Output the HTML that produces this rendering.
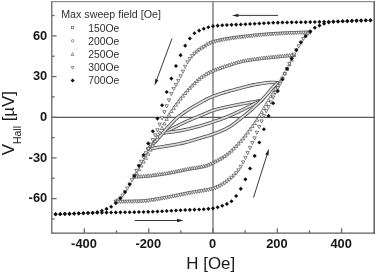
<!DOCTYPE html><html><head><meta charset="utf-8"><title>Hall loops</title><style>html,body{margin:0;padding:0;background:#fff;}body{width:375px;height:273px;overflow:hidden;font-family:"Liberation Sans",sans-serif;}svg{display:block;will-change:transform;filter:grayscale(1) blur(0.3px);}</style></head><body><svg width="375" height="273" viewBox="0 0 375 273" font-family="'Liberation Sans', sans-serif"><rect width="375" height="273" fill="#fff"/><line x1="213.00" y1="1.5" x2="213.00" y2="233.1" stroke="#8a8a8a" stroke-width="1.6"/><line x1="51.8" y1="117.30" x2="374.2" y2="117.30" stroke="#5a5a5a" stroke-width="1.15"/><path d="M164.39 132.84L165.21 132.38L166.02 131.92L166.84 131.46L167.66 131.00L168.47 130.55L169.29 130.10L170.11 129.65L170.93 129.21L171.74 128.77L172.56 128.33L173.38 127.90L174.19 127.47L175.01 127.05L175.83 126.62L176.64 126.21L177.46 125.79L178.28 125.38L179.09 124.98L179.91 124.58L180.73 124.18L181.55 123.79L182.36 123.40L183.18 123.01L184.00 122.63L184.81 122.26L185.63 121.89L186.45 121.52L187.26 121.16L188.08 120.80L188.90 120.45L189.72 120.10L190.53 119.75L191.35 119.40L192.17 119.05L192.98 118.71L193.80 118.37L194.62 118.03L195.43 117.69L196.25 117.35L197.07 117.02L197.89 116.68L198.70 116.34L199.52 116.00L200.34 115.67L201.15 115.33L201.97 114.99L202.79 114.64L203.60 114.29L204.42 113.93L205.24 113.57L206.06 113.21L206.87 112.85L207.69 112.49L208.51 112.14L209.32 111.80L210.14 111.48L210.96 111.17L211.77 110.87L212.59 110.60L213.41 110.34L214.23 110.10L215.04 109.86L215.86 109.62L216.68 109.40L217.49 109.17L218.31 108.95L219.13 108.74L219.94 108.53L220.76 108.32L221.58 108.12L222.40 107.92L223.21 107.73L224.03 107.54L224.85 107.35L225.66 107.17L226.48 106.99L227.30 106.81L228.11 106.64L228.93 106.46L229.75 106.29L230.57 106.12L231.38 105.96L232.20 105.79L233.02 105.63L233.83 105.46L234.65 105.30L235.47 105.14L236.28 104.97L237.10 104.81L237.92 104.65L238.74 104.49L239.55 104.33L240.37 104.17L241.19 104.01L242.00 103.86L242.82 103.70L243.64 103.55L244.45 103.40L245.27 103.25L246.09 103.10L246.91 102.95L247.72 102.81L248.54 102.66L249.36 102.52L250.17 102.38L250.99 102.24L251.81 102.10L252.62 101.96L253.44 101.83L254.26 101.69L255.07 101.56L255.89 101.43L256.71 101.30L257.53 101.18L258.34 101.05L259.16 100.93L259.98 100.81L260.79 100.69L261.61 100.57" fill="none" stroke="#4c4c4c" stroke-width="3.4" stroke-linecap="round" stroke-linejoin="round"/><path d="M164.39 132.84L165.21 132.38L166.02 131.92L166.84 131.46L167.66 131.00L168.47 130.55L169.29 130.10L170.11 129.65L170.93 129.21L171.74 128.77L172.56 128.33L173.38 127.90L174.19 127.47L175.01 127.05L175.83 126.62L176.64 126.21L177.46 125.79L178.28 125.38L179.09 124.98L179.91 124.58L180.73 124.18L181.55 123.79L182.36 123.40L183.18 123.01L184.00 122.63L184.81 122.26L185.63 121.89L186.45 121.52L187.26 121.16L188.08 120.80L188.90 120.45L189.72 120.10L190.53 119.75L191.35 119.40L192.17 119.05L192.98 118.71L193.80 118.37L194.62 118.03L195.43 117.69L196.25 117.35L197.07 117.02L197.89 116.68L198.70 116.34L199.52 116.00L200.34 115.67L201.15 115.33L201.97 114.99L202.79 114.64L203.60 114.29L204.42 113.93L205.24 113.57L206.06 113.21L206.87 112.85L207.69 112.49L208.51 112.14L209.32 111.80L210.14 111.48L210.96 111.17L211.77 110.87L212.59 110.60L213.41 110.34L214.23 110.10L215.04 109.86L215.86 109.62L216.68 109.40L217.49 109.17L218.31 108.95L219.13 108.74L219.94 108.53L220.76 108.32L221.58 108.12L222.40 107.92L223.21 107.73L224.03 107.54L224.85 107.35L225.66 107.17L226.48 106.99L227.30 106.81L228.11 106.64L228.93 106.46L229.75 106.29L230.57 106.12L231.38 105.96L232.20 105.79L233.02 105.63L233.83 105.46L234.65 105.30L235.47 105.14L236.28 104.97L237.10 104.81L237.92 104.65L238.74 104.49L239.55 104.33L240.37 104.17L241.19 104.01L242.00 103.86L242.82 103.70L243.64 103.55L244.45 103.40L245.27 103.25L246.09 103.10L246.91 102.95L247.72 102.81L248.54 102.66L249.36 102.52L250.17 102.38L250.99 102.24L251.81 102.10L252.62 101.96L253.44 101.83L254.26 101.69L255.07 101.56L255.89 101.43L256.71 101.30L257.53 101.18L258.34 101.05L259.16 100.93L259.98 100.81L260.79 100.69L261.61 100.57" fill="none" stroke="#dcdcdc" stroke-width="1.8" stroke-linecap="round" stroke-linejoin="round"/><path d="M164.39 132.84L165.21 132.77L166.02 132.68L166.84 132.60L167.66 132.50L168.47 132.41L169.29 132.31L170.11 132.20L170.93 132.10L171.74 131.99L172.56 131.87L173.38 131.75L174.19 131.63L175.01 131.51L175.83 131.38L176.64 131.25L177.46 131.11L178.28 130.98L179.09 130.84L179.91 130.70L180.73 130.55L181.55 130.41L182.36 130.26L183.18 130.11L184.00 129.95L184.81 129.79L185.63 129.61L186.45 129.44L187.26 129.25L188.08 129.07L188.90 128.87L189.72 128.68L190.53 128.47L191.35 128.27L192.17 128.06L192.98 127.85L193.80 127.63L194.62 127.41L195.43 127.19L196.25 126.97L197.07 126.75L197.89 126.52L198.70 126.29L199.52 126.06L200.34 125.84L201.15 125.61L201.97 125.37L202.79 125.13L203.60 124.89L204.42 124.64L205.24 124.39L206.06 124.13L206.87 123.87L207.69 123.60L208.51 123.34L209.32 123.07L210.14 122.80L210.96 122.53L211.77 122.26L212.59 121.99L213.41 121.73L214.23 121.46L215.04 121.20L215.86 120.93L216.68 120.67L217.49 120.40L218.31 120.13L219.13 119.85L219.94 119.57L220.76 119.29L221.58 119.00L222.40 118.70L223.21 118.39L224.03 118.07L224.85 117.75L225.66 117.42L226.48 117.08L227.30 116.74L228.11 116.39L228.93 116.03L229.75 115.68L230.57 115.32L231.38 114.96L232.20 114.59L233.02 114.23L233.83 113.86L234.65 113.49L235.47 113.12L236.28 112.74L237.10 112.36L237.92 111.98L238.74 111.59L239.55 111.20L240.37 110.81L241.19 110.42L242.00 110.03L242.82 109.63L243.64 109.23L244.45 108.84L245.27 108.44L246.09 108.04L246.91 107.64L247.72 107.23L248.54 106.82L249.36 106.41L250.17 105.99L250.99 105.58L251.81 105.16L252.62 104.75L253.44 104.35L254.26 103.95L255.07 103.56L255.89 103.17L256.71 102.79L257.53 102.41L258.34 102.03L259.16 101.66L259.98 101.30L260.79 100.93L261.61 100.57" fill="none" stroke="#4c4c4c" stroke-width="3.4" stroke-linecap="round" stroke-linejoin="round"/><path d="M164.39 132.84L165.21 132.77L166.02 132.68L166.84 132.60L167.66 132.50L168.47 132.41L169.29 132.31L170.11 132.20L170.93 132.10L171.74 131.99L172.56 131.87L173.38 131.75L174.19 131.63L175.01 131.51L175.83 131.38L176.64 131.25L177.46 131.11L178.28 130.98L179.09 130.84L179.91 130.70L180.73 130.55L181.55 130.41L182.36 130.26L183.18 130.11L184.00 129.95L184.81 129.79L185.63 129.61L186.45 129.44L187.26 129.25L188.08 129.07L188.90 128.87L189.72 128.68L190.53 128.47L191.35 128.27L192.17 128.06L192.98 127.85L193.80 127.63L194.62 127.41L195.43 127.19L196.25 126.97L197.07 126.75L197.89 126.52L198.70 126.29L199.52 126.06L200.34 125.84L201.15 125.61L201.97 125.37L202.79 125.13L203.60 124.89L204.42 124.64L205.24 124.39L206.06 124.13L206.87 123.87L207.69 123.60L208.51 123.34L209.32 123.07L210.14 122.80L210.96 122.53L211.77 122.26L212.59 121.99L213.41 121.73L214.23 121.46L215.04 121.20L215.86 120.93L216.68 120.67L217.49 120.40L218.31 120.13L219.13 119.85L219.94 119.57L220.76 119.29L221.58 119.00L222.40 118.70L223.21 118.39L224.03 118.07L224.85 117.75L225.66 117.42L226.48 117.08L227.30 116.74L228.11 116.39L228.93 116.03L229.75 115.68L230.57 115.32L231.38 114.96L232.20 114.59L233.02 114.23L233.83 113.86L234.65 113.49L235.47 113.12L236.28 112.74L237.10 112.36L237.92 111.98L238.74 111.59L239.55 111.20L240.37 110.81L241.19 110.42L242.00 110.03L242.82 109.63L243.64 109.23L244.45 108.84L245.27 108.44L246.09 108.04L246.91 107.64L247.72 107.23L248.54 106.82L249.36 106.41L250.17 105.99L250.99 105.58L251.81 105.16L252.62 104.75L253.44 104.35L254.26 103.95L255.07 103.56L255.89 103.17L256.71 102.79L257.53 102.41L258.34 102.03L259.16 101.66L259.98 101.30L260.79 100.93L261.61 100.57" fill="none" stroke="#dcdcdc" stroke-width="1.8" stroke-linecap="round" stroke-linejoin="round"/><path d="M148.19 148.98L149.27 147.87L150.36 146.75L151.45 145.62L152.54 144.48L153.63 143.32L154.72 142.16L155.81 140.98L156.90 139.79L157.99 138.59L159.08 137.38L160.17 136.16L161.26 134.94L162.35 133.71L163.44 132.46L164.53 131.19L165.61 129.93L166.70 128.67L167.79 127.43L168.88 126.23L169.97 125.06L171.06 123.89L172.15 122.72L173.24 121.57L174.33 120.45L175.42 119.38L176.51 118.36L177.60 117.41L178.69 116.53L179.78 115.68L180.87 114.85L181.95 114.05L183.04 113.27L184.13 112.51L185.22 111.77L186.31 111.05L187.40 110.34L188.49 109.65L189.58 108.97L190.67 108.31L191.76 107.66L192.85 107.01L193.94 106.37L195.03 105.74L196.12 105.11L197.20 104.48L198.29 103.85L199.38 103.23L200.47 102.61L201.56 101.99L202.65 101.38L203.74 100.78L204.83 100.20L205.92 99.63L207.01 99.07L208.10 98.53L209.19 98.01L210.28 97.51L211.37 97.03L212.46 96.58L213.54 96.16L214.63 95.75L215.72 95.35L216.81 94.96L217.90 94.58L218.99 94.21L220.08 93.85L221.17 93.50L222.26 93.16L223.35 92.82L224.44 92.50L225.53 92.18L226.62 91.86L227.71 91.55L228.80 91.25L229.88 90.95L230.97 90.65L232.06 90.35L233.15 90.06L234.24 89.77L235.33 89.48L236.42 89.19L237.51 88.90L238.60 88.61L239.69 88.31L240.78 88.02L241.87 87.72L242.96 87.43L244.05 87.14L245.13 86.85L246.22 86.56L247.31 86.28L248.40 86.01L249.49 85.74L250.58 85.49L251.67 85.24L252.76 85.01L253.85 84.79L254.94 84.59L256.03 84.40L257.12 84.22L258.21 84.04L259.30 83.86L260.39 83.68L261.47 83.51L262.56 83.33L263.65 83.17L264.74 83.01L265.83 82.87L266.92 82.74L268.01 82.62L269.10 82.53L270.19 82.46L271.28 82.42L272.37 82.40L273.46 82.43L274.55 82.50L275.64 82.63L276.73 82.78L277.81 82.94" fill="none" stroke="#4c4c4c" stroke-width="3.4" stroke-linecap="round" stroke-linejoin="round"/><path d="M148.19 148.98L149.27 147.87L150.36 146.75L151.45 145.62L152.54 144.48L153.63 143.32L154.72 142.16L155.81 140.98L156.90 139.79L157.99 138.59L159.08 137.38L160.17 136.16L161.26 134.94L162.35 133.71L163.44 132.46L164.53 131.19L165.61 129.93L166.70 128.67L167.79 127.43L168.88 126.23L169.97 125.06L171.06 123.89L172.15 122.72L173.24 121.57L174.33 120.45L175.42 119.38L176.51 118.36L177.60 117.41L178.69 116.53L179.78 115.68L180.87 114.85L181.95 114.05L183.04 113.27L184.13 112.51L185.22 111.77L186.31 111.05L187.40 110.34L188.49 109.65L189.58 108.97L190.67 108.31L191.76 107.66L192.85 107.01L193.94 106.37L195.03 105.74L196.12 105.11L197.20 104.48L198.29 103.85L199.38 103.23L200.47 102.61L201.56 101.99L202.65 101.38L203.74 100.78L204.83 100.20L205.92 99.63L207.01 99.07L208.10 98.53L209.19 98.01L210.28 97.51L211.37 97.03L212.46 96.58L213.54 96.16L214.63 95.75L215.72 95.35L216.81 94.96L217.90 94.58L218.99 94.21L220.08 93.85L221.17 93.50L222.26 93.16L223.35 92.82L224.44 92.50L225.53 92.18L226.62 91.86L227.71 91.55L228.80 91.25L229.88 90.95L230.97 90.65L232.06 90.35L233.15 90.06L234.24 89.77L235.33 89.48L236.42 89.19L237.51 88.90L238.60 88.61L239.69 88.31L240.78 88.02L241.87 87.72L242.96 87.43L244.05 87.14L245.13 86.85L246.22 86.56L247.31 86.28L248.40 86.01L249.49 85.74L250.58 85.49L251.67 85.24L252.76 85.01L253.85 84.79L254.94 84.59L256.03 84.40L257.12 84.22L258.21 84.04L259.30 83.86L260.39 83.68L261.47 83.51L262.56 83.33L263.65 83.17L264.74 83.01L265.83 82.87L266.92 82.74L268.01 82.62L269.10 82.53L270.19 82.46L271.28 82.42L272.37 82.40L273.46 82.43L274.55 82.50L275.64 82.63L276.73 82.78L277.81 82.94" fill="none" stroke="#dcdcdc" stroke-width="1.8" stroke-linecap="round" stroke-linejoin="round"/><path d="M148.19 148.98L149.27 148.82L150.36 148.66L151.45 148.49L152.54 148.33L153.63 148.16L154.72 147.99L155.81 147.82L156.90 147.65L157.99 147.47L159.08 147.30L160.17 147.12L161.26 146.94L162.35 146.76L163.44 146.58L164.53 146.39L165.61 146.21L166.70 146.03L167.79 145.85L168.88 145.67L169.97 145.48L171.06 145.30L172.15 145.11L173.24 144.92L174.33 144.73L175.42 144.53L176.51 144.33L177.60 144.13L178.69 143.91L179.78 143.69L180.87 143.47L181.95 143.23L183.04 142.99L184.13 142.73L185.22 142.46L186.31 142.18L187.40 141.89L188.49 141.59L189.58 141.28L190.67 140.97L191.76 140.64L192.85 140.32L193.94 139.99L195.03 139.66L196.12 139.33L197.20 138.99L198.29 138.66L199.38 138.33L200.47 138.01L201.56 137.69L202.65 137.37L203.74 137.06L204.83 136.75L205.92 136.44L207.01 136.12L208.10 135.80L209.19 135.47L210.28 135.13L211.37 134.77L212.46 134.39L213.54 134.00L214.63 133.60L215.72 133.19L216.81 132.77L217.90 132.33L218.99 131.89L220.08 131.43L221.17 130.95L222.26 130.47L223.35 129.96L224.44 129.44L225.53 128.91L226.62 128.35L227.71 127.78L228.80 127.18L229.88 126.57L230.97 125.93L232.06 125.21L233.15 124.43L234.24 123.60L235.33 122.74L236.42 121.87L237.51 121.01L238.60 120.16L239.69 119.32L240.78 118.47L241.87 117.61L242.96 116.74L244.05 115.87L245.13 114.98L246.22 114.08L247.31 113.17L248.40 112.25L249.49 111.32L250.58 110.38L251.67 109.42L252.76 108.46L253.85 107.48L254.94 106.48L256.03 105.47L257.12 104.45L258.21 103.41L259.30 102.36L260.39 101.29L261.47 100.21L262.56 99.11L263.65 97.99L264.74 96.85L265.83 95.68L266.92 94.46L268.01 93.17L269.10 91.82L270.19 90.47L271.28 89.14L272.37 87.86L273.46 86.69L274.55 85.63L275.64 84.66L276.73 83.77L277.81 82.94" fill="none" stroke="#4c4c4c" stroke-width="3.4" stroke-linecap="round" stroke-linejoin="round"/><path d="M148.19 148.98L149.27 148.82L150.36 148.66L151.45 148.49L152.54 148.33L153.63 148.16L154.72 147.99L155.81 147.82L156.90 147.65L157.99 147.47L159.08 147.30L160.17 147.12L161.26 146.94L162.35 146.76L163.44 146.58L164.53 146.39L165.61 146.21L166.70 146.03L167.79 145.85L168.88 145.67L169.97 145.48L171.06 145.30L172.15 145.11L173.24 144.92L174.33 144.73L175.42 144.53L176.51 144.33L177.60 144.13L178.69 143.91L179.78 143.69L180.87 143.47L181.95 143.23L183.04 142.99L184.13 142.73L185.22 142.46L186.31 142.18L187.40 141.89L188.49 141.59L189.58 141.28L190.67 140.97L191.76 140.64L192.85 140.32L193.94 139.99L195.03 139.66L196.12 139.33L197.20 138.99L198.29 138.66L199.38 138.33L200.47 138.01L201.56 137.69L202.65 137.37L203.74 137.06L204.83 136.75L205.92 136.44L207.01 136.12L208.10 135.80L209.19 135.47L210.28 135.13L211.37 134.77L212.46 134.39L213.54 134.00L214.63 133.60L215.72 133.19L216.81 132.77L217.90 132.33L218.99 131.89L220.08 131.43L221.17 130.95L222.26 130.47L223.35 129.96L224.44 129.44L225.53 128.91L226.62 128.35L227.71 127.78L228.80 127.18L229.88 126.57L230.97 125.93L232.06 125.21L233.15 124.43L234.24 123.60L235.33 122.74L236.42 121.87L237.51 121.01L238.60 120.16L239.69 119.32L240.78 118.47L241.87 117.61L242.96 116.74L244.05 115.87L245.13 114.98L246.22 114.08L247.31 113.17L248.40 112.25L249.49 111.32L250.58 110.38L251.67 109.42L252.76 108.46L253.85 107.48L254.94 106.48L256.03 105.47L257.12 104.45L258.21 103.41L259.30 102.36L260.39 101.29L261.47 100.21L262.56 99.11L263.65 97.99L264.74 96.85L265.83 95.68L266.92 94.46L268.01 93.17L269.10 91.82L270.19 90.47L271.28 89.14L272.37 87.86L273.46 86.69L274.55 85.63L275.64 84.66L276.73 83.77L277.81 82.94" fill="none" stroke="#dcdcdc" stroke-width="1.8" stroke-linecap="round" stroke-linejoin="round"/><g fill="#fff" stroke="#404040" stroke-width="0.65"><path d="M292.32 56.32L295.72 56.32L294.02 53.09Z"/><path d="M290.00 56.52L293.40 56.52L291.70 53.29Z"/><path d="M287.69 56.73L291.09 56.73L289.39 53.50Z"/><path d="M285.37 56.95L288.77 56.95L287.07 53.72Z"/><path d="M283.06 57.17L286.46 57.17L284.76 53.94Z"/><path d="M280.74 57.41L284.14 57.41L282.44 54.18Z"/><path d="M278.43 57.65L281.83 57.65L280.13 54.42Z"/><path d="M276.11 57.89L279.51 57.89L277.81 54.66Z"/><path d="M273.80 58.13L277.20 58.13L275.50 54.90Z"/><path d="M271.48 58.37L274.88 58.37L273.18 55.14Z"/><path d="M269.17 58.61L272.57 58.61L270.87 55.38Z"/><path d="M266.86 58.86L270.26 58.86L268.56 55.63Z"/><path d="M264.54 59.11L267.94 59.11L266.24 55.88Z"/><path d="M262.23 59.37L265.63 59.37L263.93 56.14Z"/><path d="M259.91 59.63L263.31 59.63L261.61 56.40Z"/><path d="M257.60 59.91L261.00 59.91L259.30 56.68Z"/><path d="M255.28 60.21L258.68 60.21L256.98 56.98Z"/><path d="M252.97 60.52L256.37 60.52L254.67 57.29Z"/><path d="M250.65 60.85L254.05 60.85L252.35 57.62Z"/><path d="M248.34 61.20L251.74 61.20L250.04 57.97Z"/><path d="M246.02 61.57L249.42 61.57L247.72 58.34Z"/><path d="M243.71 61.97L247.11 61.97L245.41 58.74Z"/><path d="M241.39 62.41L244.79 62.41L243.09 59.18Z"/><path d="M239.08 62.93L242.48 62.93L240.78 59.70Z"/><path d="M236.76 63.52L240.16 63.52L238.46 60.29Z"/><path d="M234.45 64.16L237.85 64.16L236.15 60.93Z"/><path d="M232.13 64.85L235.53 64.85L233.83 61.62Z"/><path d="M229.82 65.57L233.22 65.57L231.52 62.34Z"/><path d="M227.50 66.32L230.90 66.32L229.20 63.09Z"/><path d="M225.19 67.09L228.59 67.09L226.89 63.86Z"/><path d="M222.87 67.87L226.27 67.87L224.57 64.64Z"/><path d="M220.56 68.66L223.96 68.66L222.26 65.43Z"/><path d="M218.24 69.43L221.64 69.43L219.94 66.20Z"/><path d="M215.93 70.23L219.33 70.23L217.63 67.00Z"/><path d="M213.61 71.09L217.01 71.09L215.31 67.86Z"/><path d="M211.30 72.05L214.70 72.05L213.00 68.82Z"/><path d="M208.99 73.12L212.39 73.12L210.69 69.89Z"/><path d="M206.67 74.30L210.07 74.30L208.37 71.07Z"/><path d="M204.36 75.61L207.76 75.61L206.06 72.38Z"/><path d="M202.04 77.03L205.44 77.03L203.74 73.80Z"/><path d="M199.73 78.61L203.13 78.61L201.43 75.38Z"/><path d="M197.41 80.43L200.81 80.43L199.11 77.20Z"/><path d="M195.10 82.49L198.50 82.49L196.80 79.26Z"/><path d="M192.78 84.70L196.18 84.70L194.48 81.47Z"/><path d="M190.47 86.99L193.87 86.99L192.17 83.76Z"/><path d="M188.15 89.34L191.55 89.34L189.85 86.11Z"/><path d="M185.84 91.84L189.24 91.84L187.54 88.61Z"/><path d="M183.52 94.46L186.92 94.46L185.22 91.23Z"/><path d="M181.21 97.18L184.61 97.18L182.91 93.95Z"/><path d="M178.89 100.01L182.29 100.01L180.59 96.78Z"/><path d="M176.58 103.01L179.98 103.01L178.28 99.78Z"/><path d="M174.26 106.15L177.66 106.15L175.96 102.92Z"/><path d="M171.95 109.38L175.35 109.38L173.65 106.15Z"/><path d="M169.63 112.64L173.03 112.64L171.33 109.41Z"/><path d="M167.32 116.16L170.72 116.16L169.02 112.93Z"/><path d="M165.00 120.41L168.40 120.41L166.70 117.18Z"/><path d="M162.69 125.03L166.09 125.03L164.39 121.80Z"/><path d="M160.37 129.51L163.77 129.51L162.07 126.28Z"/><path d="M158.06 133.98L161.46 133.98L159.76 130.75Z"/><path d="M155.74 138.39L159.14 138.39L157.44 135.16Z"/><path d="M153.43 142.71L156.83 142.71L155.13 139.48Z"/><path d="M151.12 146.98L154.52 146.98L152.82 143.75Z"/><path d="M148.80 151.17L152.20 151.17L150.50 147.94Z"/><path d="M146.49 155.26L149.89 155.26L148.19 152.03Z"/><path d="M144.17 159.25L147.57 159.25L145.87 156.02Z"/><path d="M141.86 163.15L145.26 163.15L143.56 159.92Z"/><path d="M139.54 166.97L142.94 166.97L141.24 163.74Z"/><path d="M137.23 170.72L140.63 170.72L138.93 167.49Z"/><path d="M134.91 174.38L138.31 174.38L136.61 171.15Z"/><path d="M132.60 177.95L136.00 177.95L134.30 174.72Z"/><path d="M132.60 177.95L136.00 177.95L134.30 174.72Z"/><path d="M134.91 177.92L138.31 177.92L136.61 174.69Z"/><path d="M137.23 177.85L140.63 177.85L138.93 174.62Z"/><path d="M139.54 177.77L142.94 177.77L141.24 174.54Z"/><path d="M141.86 177.63L145.26 177.63L143.56 174.40Z"/><path d="M144.17 177.45L147.57 177.45L145.87 174.22Z"/><path d="M146.49 177.23L149.89 177.23L148.19 174.00Z"/><path d="M148.80 176.97L152.20 176.97L150.50 173.74Z"/><path d="M151.12 176.68L154.52 176.68L152.82 173.45Z"/><path d="M153.43 176.37L156.83 176.37L155.13 173.14Z"/><path d="M155.74 176.05L159.14 176.05L157.44 172.82Z"/><path d="M158.06 175.71L161.46 175.71L159.76 172.48Z"/><path d="M160.37 175.37L163.77 175.37L162.07 172.14Z"/><path d="M162.69 175.03L166.09 175.03L164.39 171.80Z"/><path d="M165.00 174.67L168.40 174.67L166.70 171.44Z"/><path d="M167.32 174.28L170.72 174.28L169.02 171.05Z"/><path d="M169.63 173.84L173.03 173.84L171.33 170.61Z"/><path d="M171.95 173.38L175.35 173.38L173.65 170.15Z"/><path d="M174.26 172.90L177.66 172.90L175.96 169.67Z"/><path d="M176.58 172.41L179.98 172.41L178.28 169.18Z"/><path d="M178.89 171.91L182.29 171.91L180.59 168.68Z"/><path d="M181.21 171.42L184.61 171.42L182.91 168.19Z"/><path d="M183.52 170.94L186.92 170.94L185.22 167.71Z"/><path d="M185.84 170.48L189.24 170.48L187.54 167.25Z"/><path d="M188.15 170.05L191.55 170.05L189.85 166.82Z"/><path d="M190.47 169.67L193.87 169.67L192.17 166.44Z"/><path d="M192.78 169.32L196.18 169.32L194.48 166.09Z"/><path d="M195.10 168.97L198.50 168.97L196.80 165.74Z"/><path d="M197.41 168.60L200.81 168.60L199.11 165.37Z"/><path d="M199.73 168.18L203.13 168.18L201.43 164.95Z"/><path d="M202.04 167.68L205.44 167.68L203.74 164.45Z"/><path d="M204.36 167.05L207.76 167.05L206.06 163.82Z"/><path d="M206.67 166.15L210.07 166.15L208.37 162.92Z"/><path d="M208.99 165.09L212.39 165.09L210.69 161.86Z"/><path d="M211.30 163.99L214.70 163.99L213.00 160.76Z"/><path d="M213.61 162.87L217.01 162.87L215.31 159.64Z"/><path d="M215.93 161.65L219.33 161.65L217.63 158.42Z"/><path d="M218.24 160.35L221.64 160.35L219.94 157.12Z"/><path d="M220.56 158.99L223.96 158.99L222.26 155.76Z"/><path d="M222.87 157.53L226.27 157.53L224.57 154.30Z"/><path d="M225.19 155.94L228.59 155.94L226.89 152.71Z"/><path d="M227.50 154.16L230.90 154.16L229.20 150.93Z"/><path d="M229.82 152.09L233.22 152.09L231.52 148.86Z"/><path d="M232.13 149.83L235.53 149.83L233.83 146.60Z"/><path d="M234.45 147.49L237.85 147.49L236.15 144.26Z"/><path d="M236.76 145.10L240.16 145.10L238.46 141.87Z"/><path d="M239.08 142.60L242.48 142.60L240.78 139.37Z"/><path d="M241.39 139.94L244.79 139.94L243.09 136.71Z"/><path d="M243.71 137.04L247.11 137.04L245.41 133.81Z"/><path d="M246.02 133.90L249.42 133.90L247.72 130.67Z"/><path d="M248.34 130.69L251.74 130.69L250.04 127.46Z"/><path d="M250.65 127.61L254.05 127.61L252.35 124.38Z"/><path d="M252.97 124.61L256.37 124.61L254.67 121.38Z"/><path d="M255.28 121.17L258.68 121.17L256.98 117.94Z"/><path d="M257.60 117.36L261.00 117.36L259.30 114.13Z"/><path d="M259.91 113.45L263.31 113.45L261.61 110.22Z"/><path d="M262.23 109.53L265.63 109.53L263.93 106.30Z"/><path d="M264.54 105.58L267.94 105.58L266.24 102.35Z"/><path d="M266.86 101.58L270.26 101.58L268.56 98.35Z"/><path d="M269.17 97.73L272.57 97.73L270.87 94.50Z"/><path d="M271.48 93.98L274.88 93.98L273.18 90.75Z"/><path d="M273.80 90.26L277.20 90.26L275.50 87.03Z"/><path d="M276.11 86.57L279.51 86.57L277.81 83.34Z"/><path d="M278.43 82.80L281.83 82.80L280.13 79.57Z"/><path d="M280.74 78.92L284.14 78.92L282.44 75.69Z"/><path d="M283.06 74.71L286.46 74.71L284.76 71.48Z"/><path d="M285.37 70.31L288.77 70.31L287.07 67.08Z"/><path d="M287.69 65.78L291.09 65.78L289.39 62.55Z"/><path d="M290.00 61.12L293.40 61.12L291.70 57.89Z"/><path d="M292.32 56.32L295.72 56.32L294.02 53.09Z"/><path d="M308.52 31.05L311.92 31.05L310.22 34.28Z"/><path d="M306.21 31.09L309.61 31.09L307.91 34.32Z"/><path d="M303.89 31.13L307.29 31.13L305.59 34.36Z"/><path d="M301.58 31.19L304.98 31.19L303.28 34.42Z"/><path d="M299.26 31.25L302.66 31.25L300.96 34.48Z"/><path d="M296.95 31.33L300.35 31.33L298.65 34.56Z"/><path d="M294.63 31.41L298.03 31.41L296.33 34.64Z"/><path d="M292.32 31.49L295.72 31.49L294.02 34.72Z"/><path d="M290.00 31.59L293.40 31.59L291.70 34.82Z"/><path d="M287.69 31.69L291.09 31.69L289.39 34.92Z"/><path d="M285.37 31.79L288.77 31.79L287.07 35.02Z"/><path d="M283.06 31.90L286.46 31.90L284.76 35.13Z"/><path d="M280.74 32.01L284.14 32.01L282.44 35.24Z"/><path d="M278.43 32.13L281.83 32.13L280.13 35.36Z"/><path d="M276.11 32.25L279.51 32.25L277.81 35.48Z"/><path d="M273.80 32.38L277.20 32.38L275.50 35.61Z"/><path d="M271.48 32.53L274.88 32.53L273.18 35.76Z"/><path d="M269.17 32.69L272.57 32.69L270.87 35.92Z"/><path d="M266.86 32.85L270.26 32.85L268.56 36.08Z"/><path d="M264.54 33.03L267.94 33.03L266.24 36.26Z"/><path d="M262.23 33.23L265.63 33.23L263.93 36.46Z"/><path d="M259.91 33.43L263.31 33.43L261.61 36.66Z"/><path d="M257.60 33.64L261.00 33.64L259.30 36.87Z"/><path d="M255.28 33.86L258.68 33.86L256.98 37.09Z"/><path d="M252.97 34.09L256.37 34.09L254.67 37.32Z"/><path d="M250.65 34.33L254.05 34.33L252.35 37.56Z"/><path d="M248.34 34.58L251.74 34.58L250.04 37.81Z"/><path d="M246.02 34.83L249.42 34.83L247.72 38.06Z"/><path d="M243.71 35.09L247.11 35.09L245.41 38.32Z"/><path d="M241.39 35.36L244.79 35.36L243.09 38.59Z"/><path d="M239.08 35.63L242.48 35.63L240.78 38.86Z"/><path d="M236.76 35.91L240.16 35.91L238.46 39.14Z"/><path d="M234.45 36.20L237.85 36.20L236.15 39.43Z"/><path d="M232.13 36.51L235.53 36.51L233.83 39.74Z"/><path d="M229.82 36.84L233.22 36.84L231.52 40.07Z"/><path d="M227.50 37.19L230.90 37.19L229.20 40.42Z"/><path d="M225.19 37.57L228.59 37.57L226.89 40.80Z"/><path d="M222.87 37.98L226.27 37.98L224.57 41.21Z"/><path d="M220.56 38.43L223.96 38.43L222.26 41.66Z"/><path d="M218.24 38.92L221.64 38.92L219.94 42.15Z"/><path d="M215.93 39.46L219.33 39.46L217.63 42.69Z"/><path d="M213.61 40.04L217.01 40.04L215.31 43.27Z"/><path d="M211.30 40.68L214.70 40.68L213.00 43.91Z"/><path d="M208.99 41.57L212.39 41.57L210.69 44.80Z"/><path d="M206.67 42.78L210.07 42.78L208.37 46.01Z"/><path d="M204.36 44.17L207.76 44.17L206.06 47.40Z"/><path d="M202.04 45.56L205.44 45.56L203.74 48.79Z"/><path d="M199.73 46.99L203.13 46.99L201.43 50.22Z"/><path d="M197.41 48.54L200.81 48.54L199.11 51.77Z"/><path d="M195.10 50.26L198.50 50.26L196.80 53.49Z"/><path d="M192.78 52.23L196.18 52.23L194.48 55.46Z"/><path d="M190.47 54.58L193.87 54.58L192.17 57.81Z"/><path d="M188.15 57.44L191.55 57.44L189.85 60.67Z"/><path d="M185.84 60.82L189.24 60.82L187.54 64.05Z"/><path d="M183.52 65.27L186.92 65.27L185.22 68.50Z"/><path d="M181.21 70.12L184.61 70.12L182.91 73.35Z"/><path d="M178.89 74.76L182.29 74.76L180.59 77.99Z"/><path d="M176.58 79.33L179.98 79.33L178.28 82.56Z"/><path d="M174.26 83.44L177.66 83.44L175.96 86.67Z"/><path d="M171.95 87.35L175.35 87.35L173.65 90.58Z"/><path d="M169.63 92.41L173.03 92.41L171.33 95.64Z"/><path d="M167.32 98.78L170.72 98.78L169.02 102.01Z"/><path d="M165.00 104.75L168.40 104.75L166.70 107.98Z"/><path d="M162.69 110.66L166.09 110.66L164.39 113.89Z"/><path d="M160.37 116.88L163.77 116.88L162.07 120.11Z"/><path d="M158.06 123.13L161.46 123.13L159.76 126.36Z"/><path d="M155.74 128.73L159.14 128.73L157.44 131.96Z"/><path d="M153.43 133.77L156.83 133.77L155.13 137.00Z"/><path d="M151.12 138.50L154.52 138.50L152.82 141.73Z"/><path d="M148.80 143.08L152.20 143.08L150.50 146.31Z"/><path d="M146.49 147.43L149.89 147.43L148.19 150.66Z"/><path d="M144.17 151.68L147.57 151.68L145.87 154.91Z"/><path d="M141.86 155.97L145.26 155.97L143.56 159.20Z"/><path d="M139.54 160.25L142.94 160.25L141.24 163.48Z"/><path d="M137.23 164.65L140.63 164.65L138.93 167.88Z"/><path d="M134.91 169.36L138.31 169.36L136.61 172.59Z"/><path d="M132.60 174.16L136.00 174.16L134.30 177.39Z"/><path d="M130.28 178.74L133.68 178.74L131.98 181.97Z"/><path d="M127.97 183.04L131.37 183.04L129.67 186.27Z"/><path d="M125.65 186.90L129.05 186.90L127.35 190.13Z"/><path d="M123.34 190.46L126.74 190.46L125.04 193.69Z"/><path d="M121.02 193.97L124.42 193.97L122.72 197.20Z"/><path d="M118.71 196.81L122.11 196.81L120.41 200.04Z"/><path d="M116.39 198.87L119.79 198.87L118.09 202.10Z"/><path d="M114.08 200.28L117.48 200.28L115.78 203.51Z"/><path d="M114.08 200.28L117.48 200.28L115.78 203.51Z"/><path d="M116.39 200.28L119.79 200.28L118.09 203.51Z"/><path d="M118.71 200.27L122.11 200.27L120.41 203.50Z"/><path d="M121.02 200.25L124.42 200.25L122.72 203.48Z"/><path d="M123.34 200.22L126.74 200.22L125.04 203.45Z"/><path d="M125.65 200.18L129.05 200.18L127.35 203.41Z"/><path d="M127.97 200.14L131.37 200.14L129.67 203.37Z"/><path d="M130.28 200.09L133.68 200.09L131.98 203.32Z"/><path d="M132.60 200.03L136.00 200.03L134.30 203.26Z"/><path d="M134.91 199.97L138.31 199.97L136.61 203.20Z"/><path d="M137.23 199.91L140.63 199.91L138.93 203.14Z"/><path d="M139.54 199.83L142.94 199.83L141.24 203.06Z"/><path d="M141.86 199.68L145.26 199.68L143.56 202.91Z"/><path d="M144.17 199.47L147.57 199.47L145.87 202.70Z"/><path d="M146.49 199.20L149.89 199.20L148.19 202.43Z"/><path d="M148.80 198.88L152.20 198.88L150.50 202.11Z"/><path d="M151.12 198.53L154.52 198.53L152.82 201.76Z"/><path d="M153.43 198.14L156.83 198.14L155.13 201.37Z"/><path d="M155.74 197.75L159.14 197.75L157.44 200.98Z"/><path d="M158.06 197.34L161.46 197.34L159.76 200.57Z"/><path d="M160.37 196.94L163.77 196.94L162.07 200.17Z"/><path d="M162.69 196.55L166.09 196.55L164.39 199.78Z"/><path d="M165.00 196.16L168.40 196.16L166.70 199.39Z"/><path d="M167.32 195.75L170.72 195.75L169.02 198.98Z"/><path d="M169.63 195.30L173.03 195.30L171.33 198.53Z"/><path d="M171.95 194.84L175.35 194.84L173.65 198.07Z"/><path d="M174.26 194.37L177.66 194.37L175.96 197.60Z"/><path d="M176.58 193.88L179.98 193.88L178.28 197.11Z"/><path d="M178.89 193.39L182.29 193.39L180.59 196.62Z"/><path d="M181.21 192.90L184.61 192.90L182.91 196.13Z"/><path d="M183.52 192.42L186.92 192.42L185.22 195.65Z"/><path d="M185.84 191.95L189.24 191.95L187.54 195.18Z"/><path d="M188.15 191.50L191.55 191.50L189.85 194.73Z"/><path d="M190.47 191.08L193.87 191.08L192.17 194.31Z"/><path d="M192.78 190.70L196.18 190.70L194.48 193.93Z"/><path d="M195.10 190.33L198.50 190.33L196.80 193.56Z"/><path d="M197.41 189.98L200.81 189.98L199.11 193.21Z"/><path d="M199.73 189.63L203.13 189.63L201.43 192.86Z"/><path d="M202.04 189.25L205.44 189.25L203.74 192.48Z"/><path d="M204.36 188.84L207.76 188.84L206.06 192.07Z"/><path d="M206.67 188.38L210.07 188.38L208.37 191.61Z"/><path d="M208.99 187.86L212.39 187.86L210.69 191.09Z"/><path d="M211.30 187.27L214.70 187.27L213.00 190.50Z"/><path d="M213.61 186.50L217.01 186.50L215.31 189.73Z"/><path d="M215.93 185.51L219.33 185.51L217.63 188.74Z"/><path d="M218.24 184.36L221.64 184.36L219.94 187.59Z"/><path d="M220.56 183.10L223.96 183.10L222.26 186.33Z"/><path d="M222.87 181.65L226.27 181.65L224.57 184.88Z"/><path d="M225.19 180.01L228.59 180.01L226.89 183.24Z"/><path d="M227.50 178.21L230.90 178.21L229.20 181.44Z"/><path d="M229.82 176.26L233.22 176.26L231.52 179.49Z"/><path d="M232.13 174.14L235.53 174.14L233.83 177.37Z"/><path d="M234.45 171.72L237.85 171.72L236.15 174.95Z"/><path d="M236.76 168.84L240.16 168.84L238.46 172.07Z"/><path d="M239.08 165.19L242.48 165.19L240.78 168.42Z"/><path d="M241.39 160.90L244.79 160.90L243.09 164.13Z"/><path d="M243.71 156.34L247.11 156.34L245.41 159.57Z"/><path d="M246.02 151.58L249.42 151.58L247.72 154.81Z"/><path d="M248.34 146.44L251.74 146.44L250.04 149.67Z"/><path d="M250.65 141.44L254.05 141.44L252.35 144.67Z"/><path d="M252.97 136.82L256.37 136.82L254.67 140.05Z"/><path d="M255.28 131.22L258.68 131.22L256.98 134.45Z"/><path d="M257.60 125.35L261.00 125.35L259.30 128.58Z"/><path d="M259.91 119.86L263.31 119.86L261.61 123.09Z"/><path d="M262.23 114.50L265.63 114.50L263.93 117.73Z"/><path d="M264.54 109.68L267.94 109.68L266.24 112.91Z"/><path d="M266.86 105.56L270.26 105.56L268.56 108.79Z"/><path d="M269.17 100.95L272.57 100.95L270.87 104.18Z"/><path d="M271.48 95.98L274.88 95.98L273.18 99.21Z"/><path d="M273.80 91.29L277.20 91.29L275.50 94.52Z"/><path d="M276.11 86.77L279.51 86.77L277.81 90.00Z"/><path d="M278.43 82.21L281.83 82.21L280.13 85.44Z"/><path d="M280.74 77.56L284.14 77.56L282.44 80.79Z"/><path d="M283.06 72.54L286.46 72.54L284.76 75.77Z"/><path d="M285.37 67.41L288.77 67.41L287.07 70.64Z"/><path d="M287.69 62.44L291.09 62.44L289.39 65.67Z"/><path d="M290.00 57.63L293.40 57.63L291.70 60.86Z"/><path d="M292.32 53.03L295.72 53.03L294.02 56.26Z"/><path d="M294.63 48.72L298.03 48.72L296.33 51.95Z"/><path d="M296.95 44.82L300.35 44.82L298.65 48.05Z"/><path d="M299.26 41.17L302.66 41.17L300.96 44.40Z"/><path d="M301.58 37.37L304.98 37.37L303.28 40.60Z"/><path d="M303.89 34.29L307.29 34.29L305.59 37.52Z"/><path d="M306.21 32.28L309.61 32.28L307.91 35.51Z"/><path d="M308.52 31.05L311.92 31.05L310.22 34.28Z"/></g><g fill="#111" stroke="none"><path d="M368.36 20.34L370.41 18.29L372.46 20.34L370.41 22.39Z"/><path d="M363.73 20.52L365.78 18.47L367.83 20.52L365.78 22.57Z"/><path d="M359.10 20.69L361.15 18.64L363.20 20.69L361.15 22.74Z"/><path d="M354.47 20.86L356.52 18.81L358.57 20.86L356.52 22.91Z"/><path d="M349.84 21.02L351.89 18.97L353.94 21.02L351.89 23.07Z"/><path d="M345.21 21.17L347.26 19.12L349.31 21.17L347.26 23.22Z"/><path d="M340.58 21.31L342.63 19.26L344.68 21.31L342.63 23.36Z"/><path d="M335.95 21.45L338.00 19.40L340.05 21.45L338.00 23.50Z"/><path d="M331.32 21.58L333.37 19.53L335.42 21.58L333.37 23.63Z"/><path d="M326.69 21.70L328.74 19.65L330.79 21.70L328.74 23.75Z"/><path d="M322.06 21.82L324.11 19.77L326.16 21.82L324.11 23.87Z"/><path d="M317.43 21.92L319.48 19.87L321.53 21.92L319.48 23.97Z"/><path d="M312.80 22.01L314.85 19.96L316.90 22.01L314.85 24.06Z"/><path d="M308.17 22.09L310.22 20.04L312.27 22.09L310.22 24.14Z"/><path d="M303.54 22.16L305.59 20.11L307.64 22.16L305.59 24.21Z"/><path d="M298.91 22.23L300.96 20.18L303.01 22.23L300.96 24.28Z"/><path d="M294.28 22.29L296.33 20.24L298.38 22.29L296.33 24.34Z"/><path d="M289.65 22.36L291.70 20.31L293.75 22.36L291.70 24.41Z"/><path d="M285.02 22.44L287.07 20.39L289.12 22.44L287.07 24.49Z"/><path d="M280.39 22.54L282.44 20.49L284.49 22.54L282.44 24.59Z"/><path d="M275.76 22.66L277.81 20.61L279.86 22.66L277.81 24.71Z"/><path d="M271.13 22.82L273.18 20.77L275.23 22.82L273.18 24.87Z"/><path d="M266.51 23.01L268.56 20.96L270.61 23.01L268.56 25.06Z"/><path d="M261.88 23.23L263.93 21.18L265.98 23.23L263.93 25.28Z"/><path d="M257.25 23.46L259.30 21.41L261.35 23.46L259.30 25.51Z"/><path d="M252.62 23.71L254.67 21.66L256.72 23.71L254.67 25.76Z"/><path d="M247.99 23.97L250.04 21.92L252.09 23.97L250.04 26.02Z"/><path d="M243.36 24.21L245.41 22.16L247.46 24.21L245.41 26.26Z"/><path d="M238.73 24.44L240.78 22.39L242.83 24.44L240.78 26.49Z"/><path d="M234.10 24.63L236.15 22.58L238.20 24.63L236.15 26.68Z"/><path d="M229.47 24.83L231.52 22.78L233.57 24.83L231.52 26.88Z"/><path d="M224.84 25.05L226.89 23.00L228.94 25.05L226.89 27.10Z"/><path d="M220.21 25.32L222.26 23.27L224.31 25.32L222.26 27.37Z"/><path d="M215.58 25.67L217.63 23.62L219.68 25.67L217.63 27.72Z"/><path d="M210.95 26.13L213.00 24.08L215.05 26.13L213.00 28.18Z"/><path d="M206.32 27.21L208.37 25.16L210.42 27.21L208.37 29.26Z"/><path d="M201.69 28.70L203.74 26.65L205.79 28.70L203.74 30.75Z"/><path d="M197.06 30.60L199.11 28.55L201.16 30.60L199.11 32.65Z"/><path d="M192.43 33.31L194.48 31.26L196.53 33.31L194.48 35.36Z"/><path d="M187.80 38.47L189.85 36.42L191.90 38.47L189.85 40.52Z"/><path d="M183.17 45.65L185.22 43.60L187.27 45.65L185.22 47.70Z"/><path d="M178.54 55.15L180.59 53.10L182.64 55.15L180.59 57.20Z"/><path d="M173.91 65.99L175.96 63.94L178.01 65.99L175.96 68.04Z"/><path d="M169.28 78.60L171.33 76.55L173.38 78.60L171.33 80.65Z"/><path d="M164.65 92.03L166.70 89.98L168.75 92.03L166.70 94.08Z"/><path d="M160.02 105.32L162.07 103.27L164.12 105.32L162.07 107.37Z"/><path d="M155.39 118.61L157.44 116.56L159.49 118.61L157.44 120.66Z"/><path d="M150.77 131.22L152.82 129.17L154.87 131.22L152.82 133.27Z"/><path d="M146.14 143.42L148.19 141.37L150.24 143.42L148.19 145.47Z"/><path d="M141.51 154.95L143.56 152.90L145.61 154.95L143.56 157.00Z"/><path d="M136.88 165.79L138.93 163.74L140.98 165.79L138.93 167.84Z"/><path d="M132.25 175.96L134.30 173.91L136.35 175.96L134.30 178.01Z"/><path d="M127.62 184.37L129.67 182.32L131.72 184.37L129.67 186.42Z"/><path d="M122.99 192.10L125.04 190.05L127.09 192.10L125.04 194.15Z"/><path d="M118.36 198.20L120.41 196.15L122.46 198.20L120.41 200.25Z"/><path d="M113.73 203.08L115.78 201.03L117.83 203.08L115.78 205.13Z"/><path d="M109.10 206.75L111.15 204.70L113.20 206.75L111.15 208.80Z"/><path d="M104.47 208.92L106.52 206.87L108.57 208.92L106.52 210.97Z"/><path d="M99.84 210.81L101.89 208.76L103.94 210.81L101.89 212.86Z"/><path d="M95.21 212.17L97.26 210.12L99.31 212.17L97.26 214.22Z"/><path d="M90.58 212.71L92.63 210.66L94.68 212.71L92.63 214.76Z"/><path d="M85.95 213.06L88.00 211.01L90.05 213.06L88.00 215.11Z"/><path d="M81.32 213.31L83.37 211.26L85.42 213.31L83.37 215.36Z"/><path d="M76.69 213.53L78.74 211.48L80.79 213.53L78.74 215.58Z"/><path d="M72.06 213.75L74.11 211.70L76.16 213.75L74.11 215.80Z"/><path d="M67.43 213.94L69.48 211.89L71.53 213.94L69.48 215.99Z"/><path d="M62.80 214.10L64.85 212.05L66.90 214.10L64.85 216.15Z"/><path d="M58.17 214.23L60.22 212.18L62.27 214.23L60.22 216.28Z"/><path d="M53.54 214.31L55.59 212.26L57.64 214.31L55.59 216.36Z"/><path d="M53.54 214.16L55.59 212.11L57.64 214.16L55.59 216.21Z"/><path d="M58.17 213.98L60.22 211.93L62.27 213.98L60.22 216.03Z"/><path d="M62.80 213.81L64.85 211.76L66.90 213.81L64.85 215.86Z"/><path d="M67.43 213.64L69.48 211.59L71.53 213.64L69.48 215.69Z"/><path d="M72.06 213.48L74.11 211.43L76.16 213.48L74.11 215.53Z"/><path d="M76.69 213.33L78.74 211.28L80.79 213.33L78.74 215.38Z"/><path d="M81.32 213.19L83.37 211.14L85.42 213.19L83.37 215.24Z"/><path d="M85.95 213.05L88.00 211.00L90.05 213.05L88.00 215.10Z"/><path d="M90.58 212.92L92.63 210.87L94.68 212.92L92.63 214.97Z"/><path d="M95.21 212.80L97.26 210.75L99.31 212.80L97.26 214.85Z"/><path d="M99.84 212.68L101.89 210.63L103.94 212.68L101.89 214.73Z"/><path d="M104.47 212.58L106.52 210.53L108.57 212.58L106.52 214.63Z"/><path d="M109.10 212.49L111.15 210.44L113.20 212.49L111.15 214.54Z"/><path d="M113.73 212.41L115.78 210.36L117.83 212.41L115.78 214.46Z"/><path d="M118.36 212.34L120.41 210.29L122.46 212.34L120.41 214.39Z"/><path d="M122.99 212.27L125.04 210.22L127.09 212.27L125.04 214.32Z"/><path d="M127.62 212.21L129.67 210.16L131.72 212.21L129.67 214.26Z"/><path d="M132.25 212.14L134.30 210.09L136.35 212.14L134.30 214.19Z"/><path d="M136.88 212.06L138.93 210.01L140.98 212.06L138.93 214.11Z"/><path d="M141.51 211.96L143.56 209.91L145.61 211.96L143.56 214.01Z"/><path d="M146.14 211.84L148.19 209.79L150.24 211.84L148.19 213.89Z"/><path d="M150.77 211.68L152.82 209.63L154.87 211.68L152.82 213.73Z"/><path d="M155.39 211.49L157.44 209.44L159.49 211.49L157.44 213.54Z"/><path d="M160.02 211.27L162.07 209.22L164.12 211.27L162.07 213.32Z"/><path d="M164.65 211.04L166.70 208.99L168.75 211.04L166.70 213.09Z"/><path d="M169.28 210.79L171.33 208.74L173.38 210.79L171.33 212.84Z"/><path d="M173.91 210.53L175.96 208.48L178.01 210.53L175.96 212.58Z"/><path d="M178.54 210.29L180.59 208.24L182.64 210.29L180.59 212.34Z"/><path d="M183.17 210.06L185.22 208.01L187.27 210.06L185.22 212.11Z"/><path d="M187.80 209.87L189.85 207.82L191.90 209.87L189.85 211.92Z"/><path d="M192.43 209.67L194.48 207.62L196.53 209.67L194.48 211.72Z"/><path d="M197.06 209.45L199.11 207.40L201.16 209.45L199.11 211.50Z"/><path d="M201.69 209.18L203.74 207.13L205.79 209.18L203.74 211.23Z"/><path d="M206.32 208.83L208.37 206.78L210.42 208.83L208.37 210.88Z"/><path d="M210.95 208.37L213.00 206.32L215.05 208.37L213.00 210.42Z"/><path d="M215.58 207.29L217.63 205.24L219.68 207.29L217.63 209.34Z"/><path d="M220.21 205.80L222.26 203.75L224.31 205.80L222.26 207.85Z"/><path d="M224.84 203.90L226.89 201.85L228.94 203.90L226.89 205.95Z"/><path d="M229.47 201.19L231.52 199.14L233.57 201.19L231.52 203.24Z"/><path d="M234.10 196.03L236.15 193.98L238.20 196.03L236.15 198.08Z"/><path d="M238.73 188.85L240.78 186.80L242.83 188.85L240.78 190.90Z"/><path d="M243.36 179.35L245.41 177.30L247.46 179.35L245.41 181.40Z"/><path d="M247.99 168.51L250.04 166.46L252.09 168.51L250.04 170.56Z"/><path d="M252.62 155.90L254.67 153.85L256.72 155.90L254.67 157.95Z"/><path d="M257.25 142.47L259.30 140.42L261.35 142.47L259.30 144.52Z"/><path d="M261.88 129.18L263.93 127.13L265.98 129.18L263.93 131.23Z"/><path d="M266.51 115.89L268.56 113.84L270.61 115.89L268.56 117.94Z"/><path d="M271.13 103.28L273.18 101.23L275.23 103.28L273.18 105.33Z"/><path d="M275.76 91.08L277.81 89.03L279.86 91.08L277.81 93.13Z"/><path d="M280.39 79.55L282.44 77.50L284.49 79.55L282.44 81.60Z"/><path d="M285.02 68.71L287.07 66.66L289.12 68.71L287.07 70.76Z"/><path d="M289.65 58.54L291.70 56.49L293.75 58.54L291.70 60.59Z"/><path d="M294.28 50.13L296.33 48.08L298.38 50.13L296.33 52.18Z"/><path d="M298.91 42.40L300.96 40.35L303.01 42.40L300.96 44.45Z"/><path d="M303.54 36.30L305.59 34.25L307.64 36.30L305.59 38.35Z"/><path d="M308.17 31.42L310.22 29.37L312.27 31.42L310.22 33.47Z"/><path d="M312.80 27.75L314.85 25.70L316.90 27.75L314.85 29.80Z"/><path d="M317.43 25.58L319.48 23.53L321.53 25.58L319.48 27.63Z"/><path d="M322.06 23.69L324.11 21.64L326.16 23.69L324.11 25.74Z"/><path d="M326.69 22.33L328.74 20.28L330.79 22.33L328.74 24.38Z"/><path d="M331.32 21.79L333.37 19.74L335.42 21.79L333.37 23.84Z"/><path d="M335.95 21.44L338.00 19.39L340.05 21.44L338.00 23.49Z"/><path d="M340.58 21.19L342.63 19.14L344.68 21.19L342.63 23.24Z"/><path d="M345.21 20.97L347.26 18.92L349.31 20.97L347.26 23.02Z"/><path d="M349.84 20.75L351.89 18.70L353.94 20.75L351.89 22.80Z"/><path d="M354.47 20.56L356.52 18.51L358.57 20.56L356.52 22.61Z"/><path d="M359.10 20.40L361.15 18.35L363.20 20.40L361.15 22.45Z"/><path d="M363.73 20.27L365.78 18.22L367.83 20.27L365.78 22.32Z"/><path d="M368.36 20.19L370.41 18.14L372.46 20.19L370.41 22.24Z"/></g><g stroke="#6a6a6a" stroke-width="1.3" fill="none"><line x1="51.15" y1="1.5" x2="374.84999999999997" y2="1.5" stroke="#8e8e8e" stroke-width="1.25"/><line x1="51.8" y1="1.5" x2="51.8" y2="233.75" stroke="#686868"/><line x1="51.8" y1="233.1" x2="374.84999999999997" y2="233.1" stroke="#5c5c5c"/><line x1="374.2" y1="1.5" x2="374.2" y2="233.75" stroke="#4a4a4a"/><line x1="84.40" y1="233.1" x2="84.40" y2="228.29999999999998"/><line x1="116.55" y1="233.1" x2="116.55" y2="230.29999999999998"/><line x1="148.70" y1="233.1" x2="148.70" y2="228.29999999999998"/><line x1="180.85" y1="233.1" x2="180.85" y2="230.29999999999998"/><line x1="213.00" y1="233.1" x2="213.00" y2="228.29999999999998"/><line x1="245.15" y1="233.1" x2="245.15" y2="230.29999999999998"/><line x1="277.30" y1="233.1" x2="277.30" y2="228.29999999999998"/><line x1="309.45" y1="233.1" x2="309.45" y2="230.29999999999998"/><line x1="341.60" y1="233.1" x2="341.60" y2="228.29999999999998"/><line x1="51.8" y1="218.95" x2="54.599999999999994" y2="218.95"/><line x1="51.8" y1="198.61" x2="56.599999999999994" y2="198.61"/><line x1="51.8" y1="178.27" x2="54.599999999999994" y2="178.27"/><line x1="51.8" y1="157.93" x2="56.599999999999994" y2="157.93"/><line x1="51.8" y1="137.59" x2="54.599999999999994" y2="137.59"/><line x1="51.8" y1="117.25" x2="56.599999999999994" y2="117.25"/><line x1="51.8" y1="96.91" x2="54.599999999999994" y2="96.91"/><line x1="51.8" y1="76.57" x2="56.599999999999994" y2="76.57"/><line x1="51.8" y1="56.23" x2="54.599999999999994" y2="56.23"/><line x1="51.8" y1="35.89" x2="56.599999999999994" y2="35.89"/><line x1="51.8" y1="15.55" x2="54.599999999999994" y2="15.55"/></g><g font-weight="bold" font-size="13.7" fill="#151515"><text transform="translate(84.00,248.3) scale(0.94,1)" text-anchor="middle">-400</text><text transform="translate(148.30,248.3) scale(0.94,1)" text-anchor="middle">-200</text><text transform="translate(212.60,248.3) scale(0.94,1)" text-anchor="middle">0</text><text transform="translate(276.90,248.3) scale(0.94,1)" text-anchor="middle">200</text><text transform="translate(341.20,248.3) scale(0.94,1)" text-anchor="middle">400</text><text transform="translate(47.2,202.31) scale(0.94,1)" text-anchor="end">-60</text><text transform="translate(47.2,161.63) scale(0.94,1)" text-anchor="end">-30</text><text transform="translate(47.2,120.95) scale(0.94,1)" text-anchor="end">0</text><text transform="translate(47.2,80.27) scale(0.94,1)" text-anchor="end">30</text><text transform="translate(47.2,39.59) scale(0.94,1)" text-anchor="end">60</text></g><g fill="#1a1a1a"><text x="186.3" y="268.7" font-size="16.9">H [Oe]</text><text transform="translate(13.9,155.2) rotate(-90)" font-size="16.9">V<tspan font-size="10.4" dy="7">Hall</tspan><tspan font-size="16.9" dy="-7"> [µV]</tspan></text></g><g fill="#303030" font-size="10.7"><text x="61.2" y="17.9">Max sweep field [Oe]</text><text x="88.2" y="31.60" font-size="10.4">150Oe</text><text x="88.2" y="44.70" font-size="10.4">200Oe</text><text x="88.2" y="57.90" font-size="10.4">250Oe</text><text x="88.2" y="71.00" font-size="10.4">300Oe</text><text x="88.2" y="83.80" font-size="10.4">700Oe</text></g><g fill="#fff" stroke="#505050" stroke-width="0.6"><rect x="71.45" y="26.45" width="2.30" height="2.30"/><circle cx="72.60" cy="40.80" r="1.25"/><path d="M71.15 55.43L74.05 55.43L72.60 52.68Z"/><path d="M71.15 66.47L74.05 66.47L72.60 69.22Z"/></g><g fill="#111"><path d="M70.60 80.40L72.60 78.40L74.60 80.40L72.60 82.40Z"/></g><line x1="172.00" y1="38.50" x2="156.86" y2="79.31" stroke="#222" stroke-width="0.9"/><path d="M154.60 85.40L155.27 78.71L158.45 79.90Z" fill="#222"/><line x1="134.70" y1="220.50" x2="177.00" y2="220.50" stroke="#222" stroke-width="0.9"/><path d="M183.50 220.50L177.00 222.20L177.00 218.80Z" fill="#222"/><line x1="278.00" y1="15.40" x2="238.50" y2="15.40" stroke="#222" stroke-width="0.9"/><path d="M232.00 15.40L238.50 13.70L238.50 17.10Z" fill="#222"/><line x1="253.50" y1="197.60" x2="266.94" y2="155.00" stroke="#222" stroke-width="0.9"/><path d="M268.90 148.80L268.57 155.51L265.32 154.49Z" fill="#222"/></svg></body></html>
